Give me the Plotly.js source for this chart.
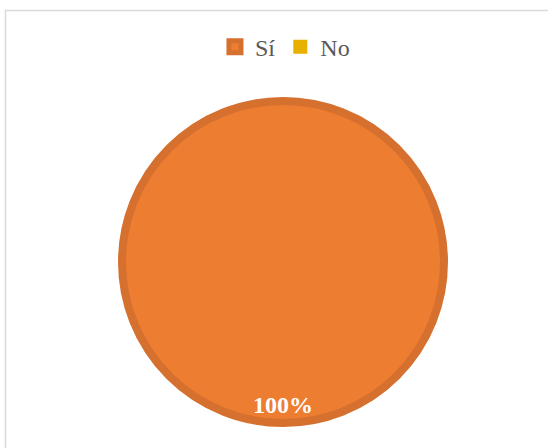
<!DOCTYPE html>
<html>
<head>
<meta charset="utf-8">
<script src="https://cdn.plot.ly/plotly-3.0.1.min.js"></script>
<style>html,body{margin:0;padding:0;background:#fff;}#chart{width:548px;height:448px;}</style>
</head>
<body>
<div id="chart"></div>
<script>
// drawing order: zero slice first so the full "Sí" circle is painted over it
const labels = ["No", "Sí"];
const values = [0, 100];
const colors = ["#E8B000", "#ED7D31"];
const lineColors = ["#E8B000", "#D5702E"];

const total = values.reduce((a, b) => a + b, 0);
const pctText = Math.round(values[1] / total * 100) + "%";

const W = 548, H = 448;
const cx = 283, cy = 262, r = 161;

const trace = {
  type: "pie",
  labels: labels,
  values: values,
  sort: false,
  direction: "clockwise",
  rotation: 0,
  textinfo: "none",
  hoverinfo: "label+percent",
  marker: { colors: colors, line: { color: lineColors, width: [2, 8] } },
  domain: { x: [(cx - r) / W, (cx + r) / W], y: [(H - cy - r) / H, (H - cy + r) / H] },
  showlegend: true
};

const layout = {
  width: W, height: H,
  margin: { l: 0, r: 0, t: 0, b: 0 },
  paper_bgcolor: "#ffffff",
  showlegend: true,
  legend: {
    orientation: "h", x: 0.52, xanchor: "center", y: 0.895, yanchor: "middle",
    font: { family: "Liberation Serif", size: 24, color: "#595959" },
    itemwidth: 30, itemclick: false, tracegroupgap: 0,
    traceorder: "reversed"
  },
  annotations: [{
    text: "<b>" + pctText + "</b>", xref: "paper", yref: "paper",
    x: cx / W, y: (H - 405) / H, yanchor: "middle", xanchor: "center", showarrow: false,
    font: { family: "Liberation Serif", size: 24, color: "#ffffff" }
  }],
  shapes: [{
    type: "rect", xref: "paper", yref: "paper",
    x0: 5.5 / W, x1: 1.2, y0: -0.2, y1: (H - 10.5) / H,
    line: { color: "#D9D9D9", width: 1.5 }, fillcolor: "rgba(0,0,0,0)"
  }]
};

Plotly.newPlot("chart", [trace], layout, { displayModeBar: false, staticPlot: true });
</script>
</body>
</html>
